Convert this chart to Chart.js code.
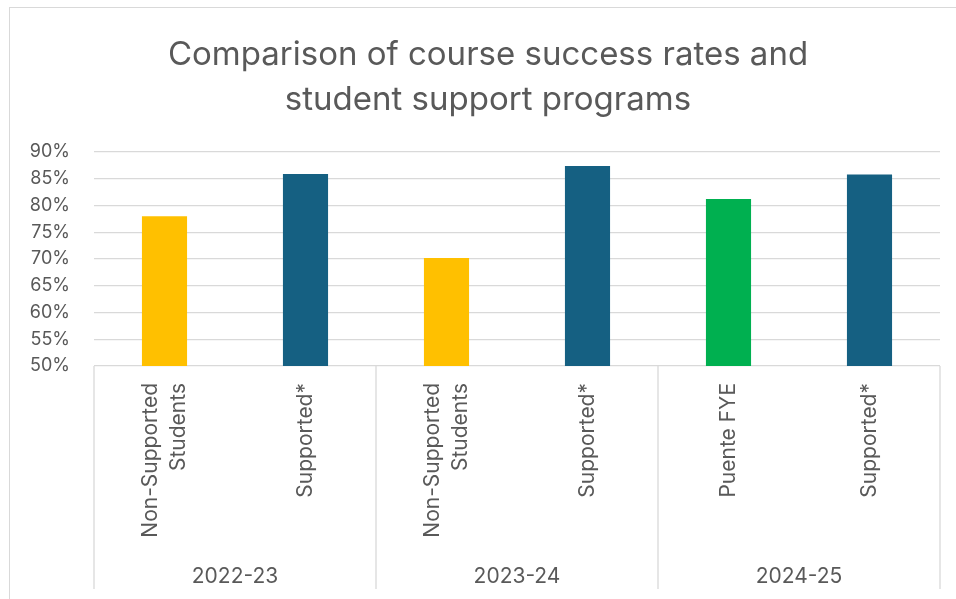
<!DOCTYPE html>
<html>
<head>
<meta charset="utf-8">
<script src="https://cdn.jsdelivr.net/npm/chart.js@4"></script>
<style>
  html, body { margin: 0; padding: 0; background: #fff; }
  #wrap { position: relative; width: 956px; height: 599px; overflow: hidden; }
  #frame { position: absolute; left: 9px; top: 7px; width: 980px; height: 620px; border: 1px solid #d9d9d9; pointer-events: none; }
</style>
</head>
<body>
<div id="wrap">
  <canvas id="chart" width="956" height="599"></canvas>
  <div id="frame"></div>
</div>
<script>
// data
const years = ['2022-23', '2023-24', '2024-25'];
const categories = [
  ['Non-Supported', 'Students'], 'Supported*',
  ['Non-Supported', 'Students'], 'Supported*',
  'Puente FYE', 'Supported*'
];
const successRates = [78.0, 85.9, 70.2, 87.4, 81.2, 85.8];
const barColors = ['#FFC000', '#156082', '#FFC000', '#156082', '#00B050', '#156082'];
const yTicks = [50, 55, 60, 65, 70, 75, 80, 85, 90];

const textColor = '#595959';
const lineColor = '#d9d9d9';
const fontFamily = 'Inter, "Liberation Sans", sans-serif';

// draws rotated category labels + the group separator lines
const groupLines = {
  id: 'groupLines',
  afterLayout(chart) {
    // the title in the original is centred a bit right of the canvas middle
    chart.titleBlock.left = 36;
  },
  afterDraw(chart) {
    const ctx = chart.ctx;
    const xs = chart.scales.x;
    const x2 = chart.scales.x2;
    const step = xs.getPixelForValue(1) - xs.getPixelForValue(0);

    ctx.save();
    ctx.fillStyle = textColor;
    ctx.font = '21px ' + fontFamily;
    ctx.textAlign = 'right';
    ctx.textBaseline = 'middle';
    const lh = 28;
    categories.forEach((label, i) => {
      const lines = Array.isArray(label) ? label : [label];
      ctx.save();
      ctx.translate(xs.getPixelForValue(i), xs.top + 17);
      ctx.rotate(-Math.PI / 2);
      lines.forEach((line, j) => {
        ctx.fillText(line, 0, (j - (lines.length - 1) / 2) * lh);
      });
      ctx.restore();
    });

    ctx.strokeStyle = lineColor;
    ctx.lineWidth = 1.3;
    const per = categories.length / years.length;
    for (let g = 0; g <= years.length; g++) {
      const px = xs.getPixelForValue(0) - step / 2 + g * per * step;
      ctx.beginPath();
      ctx.moveTo(px, chart.chartArea.bottom);
      ctx.lineTo(px, x2.bottom);
      ctx.stroke();
    }
    ctx.restore();
  }
};

new Chart(document.getElementById('chart'), {
  type: 'bar',
  data: {
    labels: categories,
    datasets: [{
      label: 'Success rate',
      data: successRates,
      backgroundColor: barColors,
      barPercentage: 0.32,
      categoryPercentage: 1.0,
    }],
  },
  options: {
    responsive: false,
    animation: false,
    layout: { padding: { left: 0, right: 16, top: 0, bottom: 10 } },
    plugins: {
      legend: { display: false },
      tooltip: { enabled: false },
      title: {
        display: true,
        text: ['Comparison of course success rates and', 'student support programs'],
        color: textColor,
        font: { family: fontFamily, size: 33, weight: 'normal', lineHeight: 1.364 },
        padding: { top: 33, bottom: 29 },
      },
    },
    scales: {
      y: {
        min: 50,
        max: 90,
        afterBuildTicks: (scale) => { scale.ticks = yTicks.map(v => ({ value: v })); },
        afterFit: (scale) => { scale.width = 94; },
        ticks: {
          callback: (v) => v + '%',
          color: textColor,
          font: { family: fontFamily, size: 18 },
          padding: 24,
        },
        grid: { color: lineColor, lineWidth: 1.3, drawTicks: false },
        border: { display: false },
      },
      x: {
        ticks: { display: false },
        grid: { display: false },
        border: { display: false },
        afterFit: (scale) => { scale.height = 190; },
      },
      x2: {
        type: 'category',
        labels: years,
        position: 'bottom',
        offset: true,
        weight: 1,
        grid: { display: false },
        border: { display: false },
        ticks: {
          color: textColor,
          font: { family: fontFamily, size: 21 },
          padding: 0,
        },
        afterFit: (scale) => { scale.height = 33; },
      },
    },
  },
  plugins: [groupLines],
});
</script>
</body>
</html>
